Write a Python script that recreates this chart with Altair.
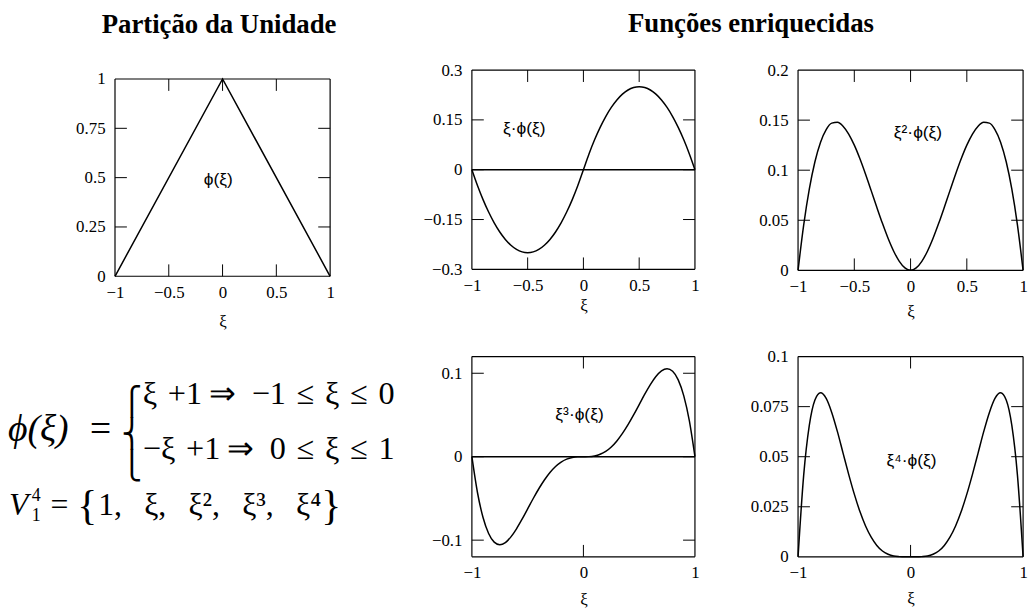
import altair as alt
import pandas as pd

SERIF = "Liberation Serif"
SANS = "Liberation Sans"

# sample points along the element, xi in [-1, 1]
xi = [-1.0, -0.95, -0.9, -0.85, -0.8, -0.75, -0.7, -0.65, -0.6, -0.55, -0.5,
      -0.45, -0.4, -0.35, -0.3, -0.25, -0.2, -0.15, -0.1, -0.05, 0.0,
      0.05, 0.1, 0.15, 0.2, 0.25, 0.3, 0.35, 0.4, 0.45, 0.5,
      0.55, 0.6, 0.65, 0.7, 0.75, 0.8, 0.85, 0.9, 0.95, 1.0]

# partition of unity (hat function)
hat_xi = [-1.0, 0.0, 1.0]
hat_phi = [0.0, 1.0, 0.0]

# enriched functions xi^k * phi(xi)
xi1_phi = [0.0, -0.0475, -0.09, -0.1275, -0.16, -0.1875, -0.21, -0.2275, -0.24, -0.2475, -0.25,
           -0.2475, -0.24, -0.2275, -0.21, -0.1875, -0.16, -0.1275, -0.09, -0.0475, 0.0,
           0.0475, 0.09, 0.1275, 0.16, 0.1875, 0.21, 0.2275, 0.24, 0.2475, 0.25,
           0.2475, 0.24, 0.2275, 0.21, 0.1875, 0.16, 0.1275, 0.09, 0.0475, 0.0]
xi2_phi = [0.0, 0.0451, 0.081, 0.1084, 0.128, 0.1406, 0.147, 0.1479, 0.144, 0.1361, 0.125,
           0.1114, 0.096, 0.0796, 0.063, 0.0469, 0.032, 0.0191, 0.009, 0.0024, 0.0,
           0.0024, 0.009, 0.0191, 0.032, 0.0469, 0.063, 0.0796, 0.096, 0.1114, 0.125,
           0.1361, 0.144, 0.1479, 0.147, 0.1406, 0.128, 0.1084, 0.081, 0.0451, 0.0]
xi3_phi = [0.0, -0.0429, -0.0729, -0.0921, -0.1024, -0.1055, -0.1029, -0.0961, -0.0864, -0.0749, -0.0625,
           -0.0501, -0.0384, -0.0279, -0.0189, -0.0117, -0.0064, -0.0029, -0.0009, -0.0001, 0.0,
           0.0001, 0.0009, 0.0029, 0.0064, 0.0117, 0.0189, 0.0279, 0.0384, 0.0501, 0.0625,
           0.0749, 0.0864, 0.0961, 0.1029, 0.1055, 0.1024, 0.0921, 0.0729, 0.0429, 0.0]
xi4_phi = [0.0, 0.0407, 0.0656, 0.0783, 0.0819, 0.0791, 0.072, 0.0625, 0.0518, 0.0412, 0.0313,
           0.0226, 0.0154, 0.0098, 0.0057, 0.0029, 0.0013, 0.0004, 0.0001, 0.0, 0.0,
           0.0, 0.0001, 0.0004, 0.0013, 0.0029, 0.0057, 0.0098, 0.0154, 0.0226, 0.0313,
           0.0412, 0.0518, 0.0625, 0.072, 0.0791, 0.0819, 0.0783, 0.0656, 0.0407, 0.0]

# axis label values and inner tick marks of each panel
x_labels_fine = [-1, -0.5, 0, 0.5, 1]
x_labels_coarse = [-1, 0, 1]
x_ticks_fine = [-0.5, 0, 0.5]
x_ticks_coarse = [0]

hat_y_labels = [0, 0.25, 0.5, 0.75, 1]
hat_y_ticks = [0.25, 0.5, 0.75]
xi1_y_labels = [-0.3, -0.15, 0, 0.15, 0.3]
xi1_y_ticks = [-0.15, 0, 0.15]
xi2_y_labels = [0, 0.05, 0.1, 0.15, 0.2]
xi2_y_ticks = [0.05, 0.1, 0.15]
xi3_y_labels = [-0.1, 0, 0.1]
xi3_y_ticks = [-0.1, 0, 0.1]
xi4_y_labels = [0, 0.025, 0.05, 0.075, 0.1]
xi4_y_ticks = [0.025, 0.05, 0.075]

TICK = 12
LABEL_EXPR = "format(datum.value, '~g')"


def panel(xs, ys, *, w, h, xdom, ydom, xlab, ylab, xin, yin,
          label, lx, ly, title_pad, top=0, zero=False, smooth=True, title=None):
    def X():
        return alt.X("x:Q", title="ξ",
                     scale=alt.Scale(domain=xdom, nice=False, zero=False),
                     axis=alt.Axis(values=xlab, labelExpr=LABEL_EXPR, ticks=False, tickSize=0,
                                   domain=False, grid=False, labelFlush=False,
                                   labelOverlap=False, labelPadding=8,
                                   titlePadding=title_pad))

    def Y():
        return alt.Y("y:Q", title=None,
                     scale=alt.Scale(domain=ydom, range=[h, top], nice=False, zero=False),
                     axis=alt.Axis(values=ylab, labelExpr=LABEL_EXPR, ticks=False, tickSize=0,
                                   domain=False, grid=False, labelFlush=False,
                                   labelOverlap=False, labelPadding=10))

    line_kw = dict(color="black", strokeWidth=1.5)
    if smooth:
        line_kw["interpolate"] = "monotone"
    curve = alt.Chart(pd.DataFrame({"x": xs, "y": ys})).mark_line(**line_kw).encode(x=X(), y=Y())

    frame_kw = dict(color="black", strokeWidth=1.2)
    frame_h = alt.Chart(pd.DataFrame({"y": ydom})).mark_rule(**frame_kw).encode(y=Y())
    frame_v = alt.Chart(pd.DataFrame({"x": xdom})).mark_rule(**frame_kw).encode(
        x=X(), y=alt.value(top), y2=alt.value(h))

    xt = pd.DataFrame({"x": xin})
    yt = pd.DataFrame({"y": yin})
    tick_kw = dict(color="black", strokeWidth=1)
    t_top = alt.Chart(xt).mark_rule(**tick_kw).encode(x=X(), y=alt.value(top), y2=alt.value(top + TICK))
    t_bot = alt.Chart(xt).mark_rule(**tick_kw).encode(x=X(), y=alt.value(h), y2=alt.value(h - TICK))
    t_left = alt.Chart(yt).mark_rule(**tick_kw).encode(y=Y(), x=alt.value(0), x2=alt.value(TICK))
    t_right = alt.Chart(yt).mark_rule(**tick_kw).encode(y=Y(), x=alt.value(w), x2=alt.value(w - TICK))

    text = alt.Chart(pd.DataFrame({"x": [lx], "y": [ly], "t": [label]})).mark_text(
        font=SANS, fontSize=17.5, color="black"
    ).encode(x=X(), y=Y(), text="t:N")

    layers = [frame_h, frame_v, t_top, t_bot, t_left, t_right]
    if zero:
        layers.append(
            alt.Chart(pd.DataFrame({"y": [0.0]})).mark_rule(color="black", strokeWidth=1.5).encode(y=Y())
        )
    layers += [curve, text]
    props = dict(width=w, height=h)
    if title is not None:
        props["title"] = title
    return alt.layer(*layers).properties(**props)


def txt(s, x, y, size, style="normal", font=SERIF, align="left"):
    return alt.Chart(pd.DataFrame({"k": [0]})).mark_text(
        text=s, font=font, fontSize=size, fontStyle=style, color="black",
        align=align, baseline="alphabetic"
    ).encode(x=alt.value(x), y=alt.value(y))


# piecewise definition of phi and the enrichment basis
formula = alt.layer(
    txt("ϕ(ξ)\u2002=", -108, 85.5, 38, style="italic"),
    txt("⎧", 17, 54.4, 28, font="DejaVu Sans", align="center"),
    txt("⎨", 17, 87, 28, font="DejaVu Sans", align="center"),
    txt("⎩", 17, 119.6, 28, font="DejaVu Sans", align="center"),
    txt("ξ\u2004+1\u2009⇒\u2002−1\u2004≤\u2004ξ\u2004≤\u20040", 28, 48, 32.5),
    txt("−ξ\u2004+1\u2009⇒\u20020\u2004≤\u2004ξ\u2004≤\u20041", 28, 103, 32.5),
    txt("V", -107, 160, 32, style="italic"),
    txt("1", -84, 166, 18),
    txt("4", -84, 146, 18),
    txt("=", -65, 160, 32),
    txt("{", -38, 164, 42),
    txt("1,\u2002\u2009ξ,\u2002\u2009ξ²,\u2002\u2009ξ³,\u2002\u2009ξ⁴", -17, 160, 32),
    txt("}", 208, 164, 42),
).properties(width=256, height=202)

title_style = dict(font=SERIF, fontSize=27, fontWeight="bold", color="black",
                   anchor="middle", frame="group", baseline="alphabetic")

p1 = panel(hat_xi, hat_phi, w=217, h=208, top=9, xdom=[-1, 1], ydom=[0, 1],
           xlab=x_labels_fine, ylab=hat_y_labels, xin=x_ticks_fine, yin=hat_y_ticks,
           label="ϕ(ξ)", lx=-0.04, ly=0.49, title_pad=14, smooth=False,
           title=alt.Title("Partição da Unidade", offset=10, dx=-3.5, **title_style))

p2 = panel(xi, xi1_phi, w=225, h=201, xdom=[-1, 1], ydom=[-0.3, 0.3],
           xlab=x_labels_fine, ylab=xi1_y_labels, xin=x_ticks_fine, yin=xi1_y_ticks,
           label="ξ·ϕ(ξ)", lx=-0.53, ly=0.121, title_pad=5, zero=True,
           title=alt.Title("Funções enriquecidas", offset=2, dx=169, **title_style))

p3 = panel(xi, xi2_phi, w=227, h=202, xdom=[-1, 1], ydom=[0, 0.2],
           xlab=x_labels_fine, ylab=xi2_y_labels, xin=x_ticks_fine, yin=xi2_y_ticks,
           label="ξ²·ϕ(ξ)", lx=0.066, ly=0.137, title_pad=10)

p4 = panel(xi, xi3_phi, w=225, h=202, xdom=[-1, 1], ydom=[-0.12, 0.12],
           xlab=x_labels_coarse, ylab=xi3_y_labels, xin=x_ticks_coarse, yin=xi3_y_ticks,
           label="ξ³·ϕ(ξ)", lx=-0.035, ly=0.05, title_pad=11, zero=True)

p5 = panel(xi, xi4_phi, w=227, h=202, xdom=[-1, 1], ydom=[0, 0.1],
           xlab=x_labels_coarse, ylab=xi4_y_labels, xin=x_ticks_coarse, yin=xi4_y_ticks,
           label="ξ⁴·ϕ(ξ)", lx=0.009, ly=0.048, title_pad=10)

chart = alt.concat(
    p1, p2, p3, formula, p4, p5,
    columns=3, spacing={"row": 81, "column": 104}, bounds="flush"
).properties(
    padding={"left": 7, "top": 7, "right": 5, "bottom": 5}
).configure(font=SERIF).configure_axis(
    labelFont=SERIF, labelFontSize=17, labelColor="black",
    titleFont=SERIF, titleFontSize=17, titleFontWeight="normal", titleColor="black"
).configure_view(stroke="transparent")

chart.save("out.html", embed_options={"renderer": "svg", "actions": False})
